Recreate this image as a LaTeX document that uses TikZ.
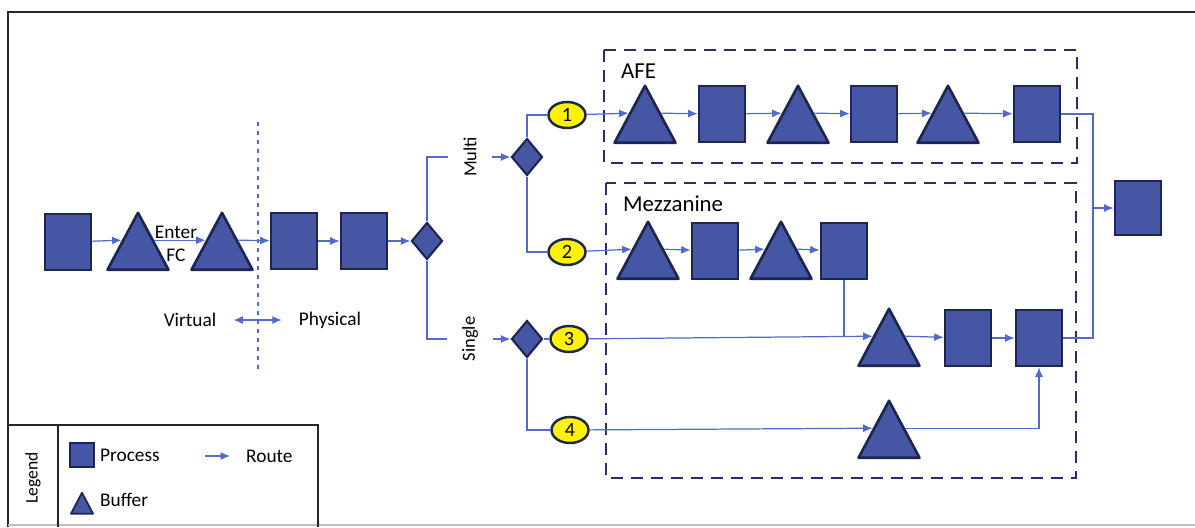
\documentclass[tikz,border=0pt]{standalone}
\usepackage{fontspec}
\setmainfont{Carlito}
\usetikzlibrary{arrows.meta,shapes.geometric}

\definecolor{procfill}{RGB}{68,86,164}
\definecolor{procline}{RGB}{30,38,80}
\definecolor{routeblue}{RGB}{82,106,204}
\definecolor{groupline}{RGB}{38,48,98}
\definecolor{tagyellow}{RGB}{255,242,0}

\begin{document}
\begin{tikzpicture}[
    x=0.02cm, y=-0.02cm,
    every node/.style = {font=\fontsize{11pt}{13pt}\selectfont},
    process/.style = {
        rectangle,
        draw=procline,
        fill=procfill,
        line width=1.5pt,
        minimum width=0.92cm,
        minimum height=1.12cm,
        inner sep=0pt
    },
    buffer/.style = {
        isosceles triangle,
        isosceles triangle stretches,
        shape border rotate=90,
        draw=procline,
        fill=procfill,
        line width=1.5pt,
        line join=round,
        minimum width=1.22cm,
        minimum height=1.14cm,
        inner sep=0pt,
        yshift=-0.19cm
    },
    decision/.style = {
        diamond,
        draw=procline,
        fill=procfill,
        line width=1.2pt,
        minimum width=0.62cm,
        minimum height=0.74cm,
        inner sep=0pt
    },
    tag/.style = {
        ellipse,
        draw=procline,
        fill=tagyellow,
        line width=1.4pt,
        minimum width=0.74cm,
        minimum height=0.52cm,
        inner sep=0pt,
        font=\fontsize{11.5pt}{13pt}\selectfont
    },
    line/.style = {draw=routeblue, line width=0.7pt},
    route/.style = {line, -{Latex[length=1.9mm,width=1.6mm]}},
    group/.style = {draw=groupline, line width=1.6pt, dash pattern=on 0.24cm off 0.16cm},
    frame/.style = {draw=black!85, line width=1.5pt}
]
\useasboundingbox (0,0) rectangle (1195,527);

% outer frame
\draw[frame] (8,527) -- (8,12) -- (1195,12);
\draw[black!25, line width=0.8pt] (8,525) -- (1195,525);

% virtual / physical split
\draw[routeblue, line width=0.7pt, dash pattern=on 0.09cm off 0.09cm] (258,122) -- (258,370);
\node (virt) at (190,320) {Virtual};
\node (phys) at (330,320) {Physical};
\draw[line, {Latex[length=1.9mm,width=1.6mm]}-{Latex[length=1.9mm,width=1.6mm]},
      shorten <=0.22cm, shorten >=0.22cm] (virt) -- (phys);

% main line
\node[process] (p1) at (68,242) {};
\node[buffer] (b1) at (138,242) {};
\node[buffer] (b2) at (222,242) {};
\node[align=center] (enter) at (176,244) {Enter\\FC};
\node[process] (p2) at (294,241) {};
\node[process] (p3) at (364,241) {};
\node[decision] (d1) at (427,241) {};

\draw[route] (p1) -- (b1.left side);
\draw[route] (b1.right side) -- (b2.left side);
\draw[route] (b2.right side) -- (p2);
\draw[route] (p2) -- (p3);
\draw[route] (p3) -- (d1);

% multi / single
\node[rotate=90, inner ysep=0.3cm, font=\fontsize{10.5pt}{12pt}\selectfont] (multi) at (470,157) {Multi};
\node[rotate=90, inner ysep=0.3cm, font=\fontsize{10.5pt}{12pt}\selectfont] (single) at (470,339) {Single};
\node[decision] (d2) at (527,157) {};
\node[decision] (d3) at (527,339) {};

\draw[line] (d1.north) |- (multi.north);
\draw[line] (d1.south) |- (single.north);
\draw[route] (multi.south) -- (d2);
\draw[route] (single.south) -- (d3);

% route tags
\node[tag] (c1) at (567,115) {1};
\node[tag] (c2) at (567,252) {2};
\node[tag] (c3) at (569,339) {3};
\node[tag] (c4) at (570,430) {4};

\draw[line] (d2.north) |- (c1);
\draw[line] (d2.south) |- (c2);
\draw[line] (d3) -- (c3);
\draw[line] (d3.south) |- (c4);

% groups
\draw[group] (604,50) rectangle (1077,163);
\node[anchor=west, font=\fontsize{13pt}{15pt}\selectfont] (afe) at (615,71) {AFE};
\draw[group] (606,183) rectangle (1076,478);
\node[anchor=west, font=\fontsize{13pt}{15pt}\selectfont] (mezz) at (617,204) {Mezzanine};

% AFE line
\node[buffer] (a1) at (645,115) {};
\node[process] (a2) at (722,114) {};
\node[buffer] (a3) at (798,115) {};
\node[process] (a4) at (874,114) {};
\node[buffer] (a5) at (948,115) {};
\node[process] (a6) at (1037,114) {};

\draw[route] (c1) -- (a1.left side);
\draw[route] (a1.right side) -- (a2);
\draw[route] (a2) -- (a3.left side);
\draw[route] (a3.right side) -- (a4);
\draw[route] (a4) -- (a5.left side);
\draw[route] (a5.right side) -- (a6);

% Mezzanine lines
\node[buffer] (m1) at (648,251) {};
\node[process] (m2) at (715,251) {};
\node[buffer] (m3) at (781,251) {};
\node[process] (m4) at (844,251) {};
\node[buffer] (m5) at (889,338) {};
\node[process] (m6) at (968,338) {};
\node[process] (m7) at (1039,338) {};
\node[buffer] (m8) at (889,430) {};

\draw[route] (c2) -- (m1.left side);
\draw[route] (m1.right side) -- (m2);
\draw[route] (m2) -- (m3.left side);
\draw[route] (m3.right side) -- (m4);
\draw[line] (m4.south) -- (m4.south |- m5.left side);
\draw[route] (c3) -- (m5.left side);
\draw[route] (m5.right side) -- (m6);
\draw[route] (m6) -- (m7);
\draw[route] (c4) -- (m8.left side);
\draw[route] (m8.right side) -| (m7.south);

% merge
\node[process, minimum height=1.08cm] (final) at (1138,208) {};
\coordinate (merge) at (1093,208);
\draw[line] (a6.east) -| (merge);
\draw[line] (m7.east) -| (merge);
\draw[route] (merge) -- (final);

% legend
\draw[frame] (8,425) -- (318,425) -- (318,527);
\draw[frame] (58,425) -- (58,527);
\node[rotate=90, font=\fontsize{10pt}{12pt}\selectfont] (legend) at (33,478) {Legend};
\node[process, minimum width=0.48cm, minimum height=0.48cm, line width=1pt] (lproc) at (82,455) {};
\node[anchor=west] (lproctext) at (94,455) {Process};
\node[buffer, minimum width=0.44cm, minimum height=0.42cm, line width=1pt, yshift=-0.07cm] (lbuf) at (82,494) {};
\node[anchor=west] (lbuftext) at (94,500) {Buffer};
\coordinate (lroute) at (205,456);
\node[anchor=west] (lroutetext) at (240,456) {Route};
\draw[route, shorten >=0.2cm] (lroute) -- (lroutetext.west);

\end{tikzpicture}
\end{document}
